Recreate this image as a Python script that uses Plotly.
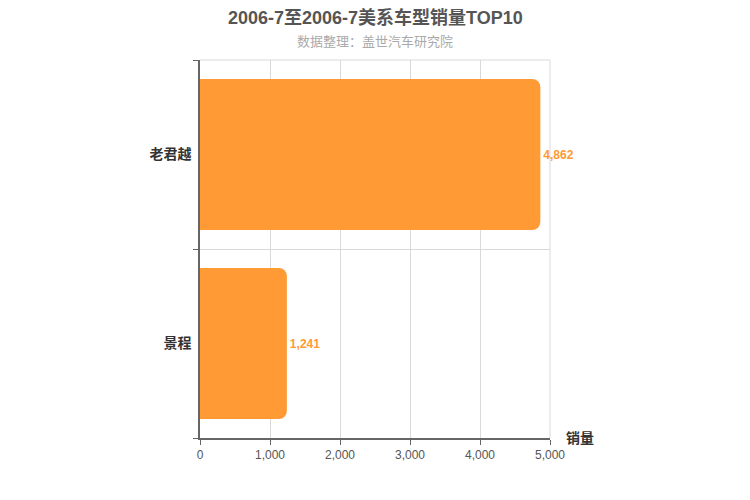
import plotly.graph_objects as go

categories = ["景程", "老君越"]
values = [1241, 4862]
x_ticks = [0, 1000, 2000, 3000, 4000, 5000]
x_tick_labels = ["0", "1,000", "2,000", "3,000", "4,000", "5,000"]

title = "2006-7至2006-7美系车型销量TOP10"
subtitle = "数据整理：盖世汽车研究院"
axis_name = "销量"

font = "Arial, 'Liberation Sans', 'Noto Sans CJK SC', sans-serif"
bar_color = "#FF9A35"

# page body has an 8px default margin; compensate in figure coordinates
OFF = 8
L, R, T, B = 200 - OFF, 750 - 550 + OFF, 60 - OFF, 500 - 438 + OFF
ph = 500 - T - B

fig = go.Figure(go.Bar(
    y=categories, x=values, orientation="h",
    marker=dict(color=bar_color, cornerradius=8, line=dict(width=0)),
    text=[f"<b>{v:,}</b>" for v in values], textposition="outside",
    textfont=dict(color=bar_color, size=12, family=font),
    cliponaxis=False,
))

fig.update_layout(
    width=750, height=500,
    margin=dict(l=L, r=R, t=T, b=B, autoexpand=False),
    plot_bgcolor="white", paper_bgcolor="white",
    bargap=0.2, showlegend=False,
    font=dict(family=font, color="#555"),
    title=dict(text="", x=0.5),
)
fig.add_annotation(text=f"<b>{title}</b>", x=(375 - OFF - L) / (750 - L - R), xref="paper",
                   y=(500 - B - 9) / ph, yref="paper", xanchor="center",
                   yanchor="middle", showarrow=False,
                   font=dict(size=18, color="#555", family=font))
fig.add_annotation(text=subtitle, x=0.5, xref="paper", y=(500 - B - (41 - OFF)) / ph, yref="paper",
                   yanchor="middle", showarrow=False,
                   font=dict(size=13, color="#aaa", family=font))
fig.add_annotation(text=f"<b>{axis_name}</b>", x=1, xref="paper", xshift=14,
                   y=0, yref="paper", xanchor="left", yanchor="middle", showarrow=False,
                   font=dict(size=14, color="#333", family=font))

fig.update_xaxes(range=[0, 5000], tickvals=x_ticks, ticktext=x_tick_labels,
                 showgrid=True, gridcolor="#d9d9d9", gridwidth=1,
                 showline=True, linecolor="#666", linewidth=1.5,
                 ticks="outside", ticklen=5, tickcolor="#666", automargin=False,
                 tickfont=dict(size=12, color="#555"), zeroline=False)
fig.update_yaxes(showgrid=True, gridcolor="#d9d9d9", tickson="boundaries",
                 showline=True, linecolor="#666", linewidth=1.5, automargin=False,
                 ticks="outside", ticklen=5, tickcolor="#666", ticklabelstandoff=4,
                 tickfont=dict(size=14, color="#333", family=font),
                 ticktext=[f"<b>{c}</b>" for c in categories], tickvals=categories,
                 categoryorder="array", categoryarray=categories)
fig.add_shape(type="line", xref="paper", yref="paper", x0=0, x1=1, y0=1, y1=1,
              line=dict(color="#d9d9d9", width=1), layer="below")
fig.add_shape(type="line", xref="paper", yref="paper", x0=1, x1=1, y0=0, y1=1,
              line=dict(color="#d9d9d9", width=1), layer="below")

fig.write_html("out.html")
